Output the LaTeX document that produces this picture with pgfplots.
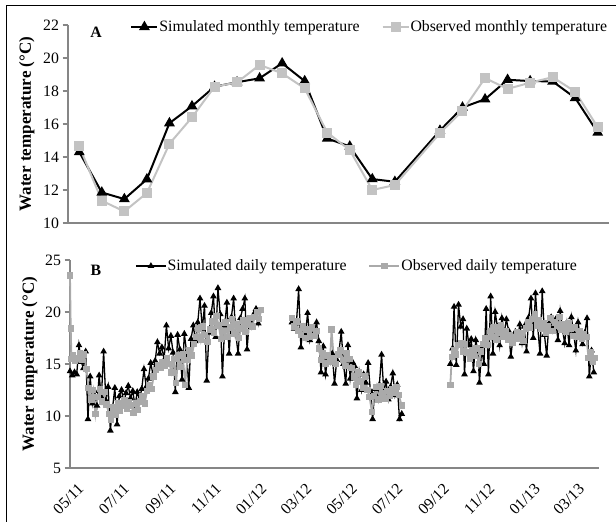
\documentclass[border=0pt]{standalone}
\usepackage{pgfplots}
\pgfplotsset{compat=1.18}
\usepackage{pgfplotstable}
\usepackage{fontspec}
\setmainfont{Liberation Serif}
\definecolor{axgray}{HTML}{868686}
\definecolor{obsA}{HTML}{C3C3C3}
\definecolor{obsB}{HTML}{AAAAAA}
\newcommand\fs{\fontsize{15.8bp}{18bp}\selectfont}

\pgfplotstableread{
x sim obs
0 14.3 14.65
1 11.85 11.35
2 11.45 10.7
3 12.65 11.82
4 16.05 14.8
5 17.08 16.4
6 18.26 18.26
7 18.53 18.52
8 18.77 19.58
9 19.68 19.07
10 18.6 18.16
11 15.12 15.48
12 14.64 14.42
13 12.66 12.0
14 12.5 12.3
16 15.6 15.45
17 17.0 16.8
18 17.5 18.78
19 18.68 18.13
20 18.6 18.5
21 18.58 18.84
22 17.58 17.96
23 15.48 15.8
}\dataA

\pgfplotstableread{
x y
0 14.3
3 13.9
6 14.2
9 14.0
12 16.8
15 15.2
18 14.6
21 16.2
24 9.7
27 13.8
30 11.2
33 12.4
36 11.0
39 13.9
42 11.8
45 16.2
48 11.5
51 12.8
54 8.6
57 10.8
60 12.7
63 9.2
66 11.9
69 12.5
72 11.3
75 12.2
78 12.9
81 11.7
84 12.4
87 11.0
90 12.3
93 11.6
96 12.6
99 14.5
102 12.8
105 13.6
108 15.1
111 14.0
114 15.3
117 17.1
120 16.0
123 16.6
126 15.4
129 18.7
132 16.5
135 17.7
138 16.1
141 12.3
144 17.8
147 16.4
150 13.5
153 17.9
156 16.2
159 12.7
162 17.4
165 18.7
168 17.2
171 19.0
174 21.3
177 18.4
180 20.6
183 13.4
186 18.0
189 19.9
192 21.5
195 17.6
198 22.3
201 19.8
204 13.8
207 18.7
210 20.9
213 16.0
216 19.5
219 21.3
222 17.8
225 16.0
228 19.4
231 20.3
234 21.3
237 16.4
240 19.2
243 18.5
246 19.8
249 20.3
252 18.9
255 20.1
280 nan
297 19.0
300 18.4
303 18.9
306 22.2
309 16.6
312 18.5
315 17.8
318 19.9
321 17.3
324 18.4
327 18.0
330 19.0
333 17.2
336 14.2
339 16.7
342 14.0
345 15.6
348 15.1
351 16.0
354 13.1
357 15.4
360 16.2
363 18.1
366 15.0
369 13.1
372 16.8
375 13.6
378 15.2
381 14.8
384 11.7
387 14.2
390 12.5
393 14.0
396 13.2
399 15.1
402 12.4
405 9.7
408 12.6
411 11.8
414 13.0
417 15.9
420 12.3
423 13.3
426 11.6
429 12.8
432 14.1
435 12.0
438 13.0
441 9.7
444 10.2
470 nan
509 15.0
512 16.5
514 20.5
517 14.9
520 20.7
523 18.6
526 19.3
528 14.0
531 18.4
534 16.8
537 17.4
540 14.3
543 17.3
546 16.2
548 13.2
551 16.5
554 15.0
557 20.3
560 14.0
563 21.5
566 16.0
569 20.0
572 18.6
575 16.8
578 19.4
581 17.9
584 19.3
587 18.2
590 15.7
593 17.6
596 18.1
599 17.4
602 18.8
605 17.0
608 18.6
611 16.2
614 19.5
617 21.3
620 17.5
623 21.8
626 18.6
629 16.0
632 22.0
635 17.8
638 15.8
641 18.9
644 19.5
647 18.6
650 19.3
653 17.3
656 20.1
659 18.4
662 17.0
665 18.9
668 16.8
671 19.5
674 18.0
677 16.3
680 19.0
683 17.5
686 16.9
689 18.0
692 19.4
695 13.8
698 16.3
701 14.2
}\simB

\pgfplotstableread{
x y
0 23.5
1 18.4
2 15.5
4 15.8
7 15.3
10 15.6
13 16.0
16 15.4
19 15.9
22 14.5
25 12.7
28 11.6
31 12.5
34 10.2
37 11.8
40 12.6
43 11.4
46 12.3
49 11.1
52 10.2
55 9.6
58 10.8
61 10.1
64 11.2
67 10.5
70 11.0
73 11.5
76 10.7
79 11.3
82 11.0
85 10.3
88 11.2
91 10.6
94 11.4
97 11.9
100 11.2
103 12.4
106 13.0
109 12.6
112 13.8
115 14.4
118 14.9
121 14.6
124 15.2
127 14.8
130 15.6
133 15.0
136 14.2
139 15.5
142 13.2
145 15.8
148 14.7
151 15.9
154 13.0
157 15.4
160 16.3
163 15.8
166 16.9
169 17.6
172 18.4
175 17.3
178 18.6
181 17.8
184 17.1
187 18.3
190 19.1
193 18.0
196 19.6
199 18.7
202 17.4
205 18.2
208 19.0
211 17.6
214 18.5
217 19.3
220 17.9
223 18.8
226 17.5
229 18.4
232 19.2
235 18.1
238 18.8
241 19.4
244 18.6
247 19.5
250 20.0
253 19.3
256 20.2
280 nan
297 19.4
300 18.6
303 19.1
306 18.2
309 17.8
312 18.6
315 17.5
318 18.3
321 17.6
324 18.5
327 17.7
330 18.2
333 16.5
336 15.4
339 16.0
342 15.0
345 15.8
348 15.2
350 18.3
353 15.6
356 15.0
359 15.9
362 16.3
365 15.4
368 14.8
371 16.0
374 15.5
377 14.6
380 13.8
383 13.0
386 14.2
389 13.3
392 12.7
395 13.8
398 12.5
401 11.8
404 10.4
407 11.9
410 12.8
413 11.6
416 12.9
419 12.2
422 11.7
425 12.4
428 11.9
431 12.6
434 12.2
437 12.8
440 12.0
444 11.0
470 nan
509 13.0
511 15.7
514 16.3
517 15.9
520 16.8
523 17.0
526 16.2
529 16.9
532 16.1
535 15.5
538 16.3
541 15.8
544 16.5
547 15.0
550 16.2
553 16.9
556 17.5
559 16.8
562 18.2
565 17.6
568 18.5
571 17.3
574 18.0
577 18.7
580 17.6
583 18.2
586 17.3
589 17.8
592 17.0
595 17.6
598 18.1
601 17.4
604 18.0
607 17.2
610 18.4
613 19.0
616 18.5
619 19.3
622 19.8
625 18.7
628 19.2
631 18.4
634 18.9
637 18.0
640 18.6
643 19.4
646 18.2
649 19.0
652 18.7
655 19.5
658 18.3
661 18.8
664 18.1
667 18.9
670 18.4
673 17.7
676 18.5
679 17.6
682 18.2
685 17.4
688 17.9
691 17.6
694 15.6
697 16.1
700 15.2
702 15.6
}\obsB

\pgfplotsset{
  exc/.style={
    scale only axis,
    axis lines*=left,
    axis line style={draw=axgray, line width=1.3bp},
    every tick/.style={draw=axgray, line width=1.1bp},
    tick align=outside,
    major tick length=5.5bp,
    tick label style={font=\fs},
    /pgf/number format/assume math mode=true,
    ylabel={Water temperature (°C)},
    legend style={draw=none, fill=none, inner sep=0pt, font=\fs, nodes={inner sep=1bp},
      /tikz/every even column/.append style={column sep=21bp}},
    legend cell align=left,
    legend columns=2,
    clip=false,
  }
}

\begin{document}
\begin{tikzpicture}[x=1bp,y=1bp]
\useasboundingbox (0,0) rectangle (616,522);
\draw[line width=1bp] (6,0) -- (6,516) -- (616,516);

\begin{axis}[exc,
  at={(68bp,299bp)}, anchor=south west,
  width=541bp, height=198bp,
  xmin=-0.5, xmax=23.5, ymin=10, ymax=22,
  ytick={10,12,...,22}, xtick=\empty,
  ylabel style={font=\bfseries\fontsize{17bp}{18bp}\selectfont, at={(axis description cs:-0.076,0.5)}, anchor=center, rotate=0},
  legend style={at={(axis description cs:0.115,0.99)}, anchor=west},
  legend image code/.code={\draw[mark repeat=2,mark phase=2,#1] plot coordinates {(0bp,0bp) (13bp,0bp) (26bp,0bp)};},
]
\addplot[black, line width=2bp, mark=triangle*, mark size=4.3bp, mark options={solid}] table[x=x,y=sim] {\dataA};
\addlegendentry{Simulated monthly temperature}
\addplot[obsA, line width=2bp, mark=square*, mark size=4bp, mark options={solid}] table[x=x,y=obs] {\dataA};
\addlegendentry{Observed monthly temperature}
\end{axis}
\node[font=\bfseries\fs] at (96bp,490bp) {A};

\begin{axis}[exc,
  at={(70bp,54bp)}, anchor=south west,
  width=529bp, height=208bp,
  xmin=0, xmax=708, ymin=5, ymax=25,
  ytick={5,10,...,25},
  xtick={0,61,123,184,245,305,366,427,489,550,611,670},
  xticklabels={05/11,07/11,09/11,11/11,01/12,03/12,05/12,07/12,09/12,11/12,01/13,03/13},
  major x tick style={draw=none},
  xticklabel style={rotate=45, anchor=north east, yshift=-8bp, xshift=2bp},
  ylabel style={font=\bfseries\fontsize{17bp}{18bp}\selectfont, at={(axis description cs:-0.076,0.5)}, anchor=center},
  unbounded coords=jump,
  legend style={at={(axis description cs:0.123,0.971)}, anchor=west},
  legend image code/.code={\draw[mark repeat=2,mark phase=2,#1] plot coordinates {(0bp,0bp) (15bp,0bp) (30bp,0bp)};},
]
\addplot[black, line width=1.3bp, mark=triangle*, mark size=2.6bp, mark options={solid}] table[x=x,y=y] {\simB};
\addlegendentry{Simulated daily temperature}
\addplot[obsB, line width=1.8bp, mark=square*, mark size=2.3bp, mark options={solid}] table[x=x,y=y] {\obsB};
\addlegendentry{Observed daily temperature}
\end{axis}
\node[font=\bfseries\fs] at (96bp,252bp) {B};
\end{tikzpicture}
\end{document}
